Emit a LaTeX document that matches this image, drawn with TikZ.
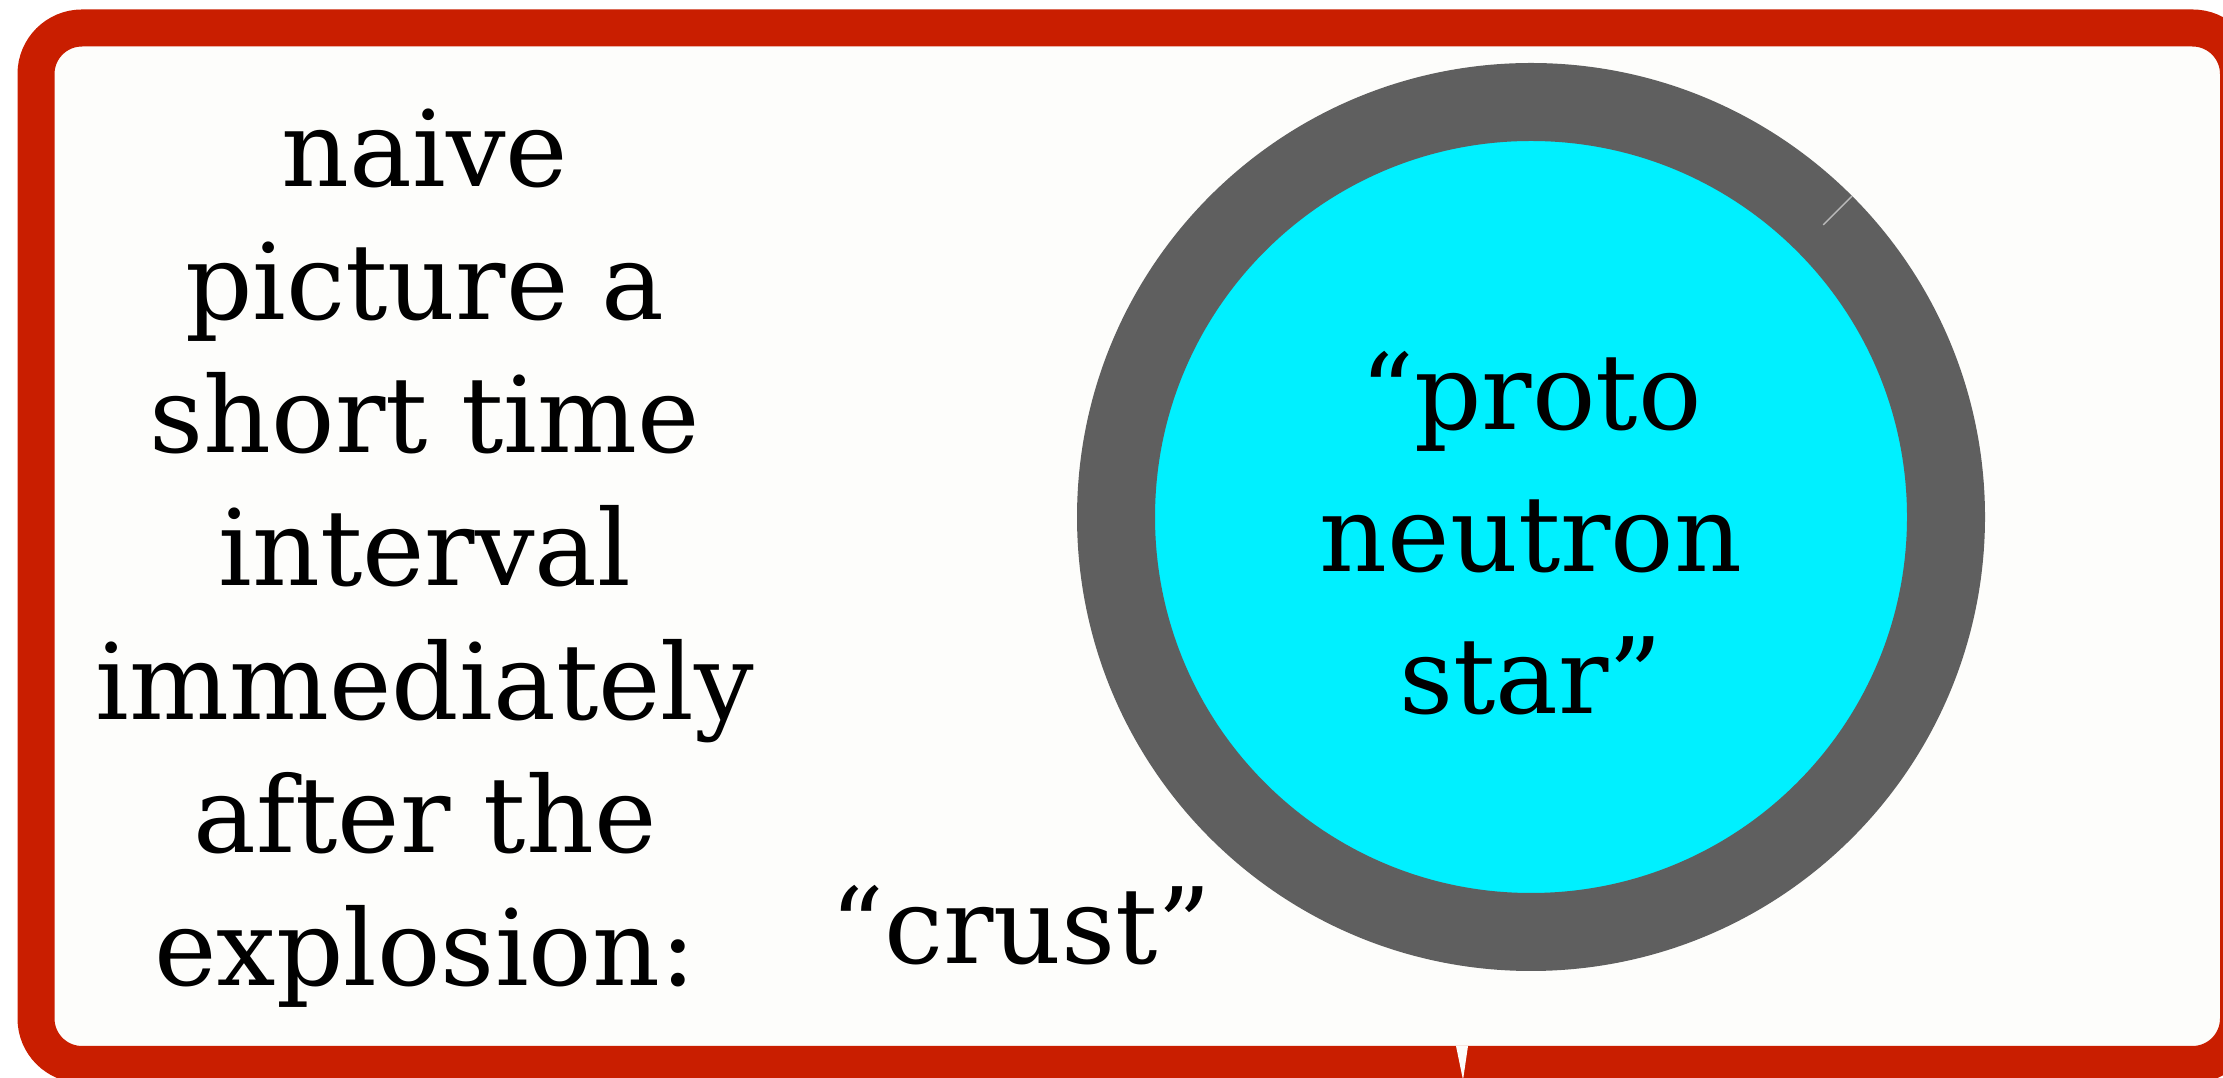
\documentclass[tikz,border=0pt]{standalone}
\usepackage{fontspec}
\setmainfont{DejaVu Serif}
\usetikzlibrary{positioning,calc}
\definecolor{frame}{RGB}{201,30,0}
\definecolor{crustgray}{RGB}{95,95,95}
\definecolor{corecyan}{RGB}{0,240,255}
\definecolor{paper}{RGB}{253,253,251}

\begin{document}
\begin{tikzpicture}[
  box/.style={draw=frame,fill=paper,line width=3.7mm,rounded corners=4.6mm},
  pns/.style={circle,draw=crustgray,fill=corecyan,line width=7.8mm,minimum size=83mm,inner sep=0pt},
  lbl/.style={align=center,inner sep=0pt,font=\fontsize{30}{37.9}\selectfont},
  corelbl/.style={lbl,font=\fontsize{30}{40.5}\selectfont},
  seam/.style={gray!55,line width=0.4pt}]
\useasboundingbox (0,0) rectangle (22.23,-10.78);
\clip (0,0) rectangle (22.23,-10.78);
% frame
\draw[box] (0.36,-0.28) rectangle (22.385,-10.645);
\fill[paper] (14.56,-10.46) -- (14.68,-10.46) -- (14.63,-10.80) -- cycle;
% star
\node[pns] (star) at (15.31,-5.17) {};
\draw[seam] (star.45) -- ($(star.center)!0.91!(star.45)$);
\node[corelbl] (core) at ([yshift=-1.6mm]star.center) {``proto\\neutron\\star''};
% labels
\node[lbl,anchor=north] (intro) at (4.25,-1.08) {naive\\picture a\\short time\\interval\\immediately\\after the\\explosion:};
\node[lbl,anchor=base] (crust) at (10.21,-9.64) {``crust''};
\end{tikzpicture}
\end{document}
